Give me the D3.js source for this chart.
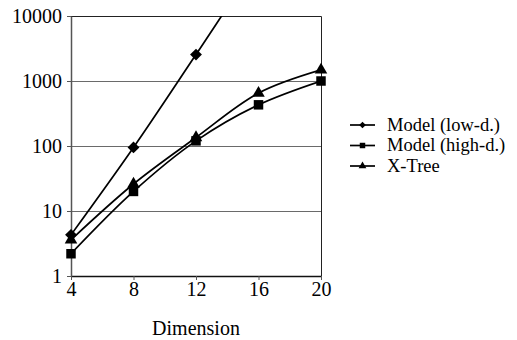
<!DOCTYPE html>
<html>
<head>
<meta charset="utf-8">
<script src="https://cdn.jsdelivr.net/npm/d3@7"></script>
<style>
  body { margin: 0; background: #fff; }
</style>
</head>
<body>
<div id="chart"></div>
<script>
// Chart values
const dims = [4, 8, 12, 16, 20];
const lowD = [4.3, 95, 2550, 70000, 1500000];
const highD = [2.2, 20, 120, 430, 1000];
const xTree = [3.6, 26, 135, 650, 1480];
const seriesNames = ['Model (low-d.)', 'Model (high-d.)', 'X-Tree'];
const yTicks = [1, 10, 100, 1000, 10000];

const FONT = 'Liberation Serif';

const width = 517, height = 340;
const margin = { top: 16, right: 196, bottom: 64, left: 71 };
const innerW = width - margin.left - margin.right;
const innerH = height - margin.top - margin.bottom;

const svg = d3.select('#chart').append('svg')
  .attr('width', width)
  .attr('height', height)
  .style('display', 'block');

const x = d3.scaleLinear().domain([4, 20]).range([0, innerW]);
const y = d3.scaleLog().domain([1, 10000]).range([innerH, 0]);

const g = svg.append('g')
  .attr('transform', 'translate(' + margin.left + ',' + margin.top + ')');

// clip for lines that run off the top
svg.append('defs').append('clipPath').attr('id', 'plot-clip')
  .append('rect').attr('x', 0).attr('y', 0).attr('width', innerW).attr('height', innerH);

// horizontal gridlines
g.selectAll('.grid')
  .data(yTicks.slice(1, -1))
  .enter()
  .append('line')
  .attr('x1', 0)
  .attr('x2', innerW)
  .attr('y1', function(d) { return Math.round(y(d)) + 0.5; })
  .attr('y2', function(d) { return Math.round(y(d)) + 0.5; })
  .attr('stroke', '#6a6a6a')
  .attr('stroke-width', 1);

// top and right border
g.append('path')
  .attr('d', 'M0,0.5H' + (innerW + 0.5) + 'V' + innerH)
  .attr('fill', 'none')
  .attr('stroke', '#222')
  .attr('stroke-width', 1);

// axes
const xAxis = g.append('g')
  .attr('transform', 'translate(0,' + innerH + ')')
  .call(d3.axisBottom(x).tickValues(dims).tickSize(4).tickSizeOuter(0).tickPadding(2));
const yAxis = g.append('g')
  .call(d3.axisLeft(y).tickValues(yTicks).tickFormat(d3.format('d')).tickSize(4).tickSizeOuter(0).tickPadding(5));

xAxis.select('.domain').attr('stroke', '#111').attr('stroke-width', 1.5);
yAxis.select('.domain').attr('stroke', '#555').attr('stroke-width', 1.5);
[xAxis, yAxis].forEach(function(ax) {
  ax.attr('font-family', FONT).attr('font-size', 20);
  ax.selectAll('.tick line').attr('stroke', '#555');
  ax.selectAll('.tick text').attr('fill', '#000');
});

// axis title
svg.append('text')
  .attr('x', margin.left + innerW / 2)
  .attr('y', 335)
  .attr('text-anchor', 'middle')
  .attr('font-family', FONT)
  .attr('font-size', 20)
  .text('Dimension');

// rotated-square diamond like the reference
const diamond = {
  draw: function(ctx, size) {
    const r = Math.sqrt(size / 2);
    ctx.moveTo(0, -r);
    ctx.lineTo(r, 0);
    ctx.lineTo(0, r);
    ctx.lineTo(-r, 0);
    ctx.closePath();
  }
};

const series = [
  { name: seriesNames[0], values: lowD, symbol: diamond, size: 70, legendSize: 22 },
  { name: seriesNames[1], values: highD, symbol: d3.symbolSquare, size: 90, legendSize: 30 },
  { name: seriesNames[2], values: xTree, symbol: d3.symbolTriangle, size: 68, legendSize: 26 }
];

const line = d3.line()
  .x(function(d) { return x(d[0]); })
  .y(function(d) { return y(d[1]); })
  .curve(d3.curveCatmullRom.alpha(0.5));

const lines = g.append('g').attr('clip-path', 'url(#plot-clip)');

series.forEach(function(s) {
  const pts = dims.map(function(d, i) { return [d, s.values[i]]; });
  lines.append('path')
    .datum(pts)
    .attr('d', line)
    .attr('fill', 'none')
    .attr('stroke', '#000')
    .attr('stroke-width', 1.7);
});

// markers (only those inside the plot)
series.forEach(function(s) {
  const pts = dims.map(function(d, i) { return [d, s.values[i]]; })
    .filter(function(p) { return p[1] <= 10000; });
  g.selectAll(null)
    .data(pts)
    .enter()
    .append('path')
    .attr('transform', function(d) { return 'translate(' + x(d[0]) + ',' + y(d[1]) + ')'; })
    .attr('d', d3.symbol().type(s.symbol).size(s.size))
    .attr('fill', '#000');
});

// legend
const legend = svg.append('g').attr('transform', 'translate(350,125)');
series.forEach(function(s, i) {
  const row = legend.append('g').attr('transform', 'translate(0,' + (i * 20.5) + ')');
  row.append('line')
    .attr('x1', 0).attr('x2', 25)
    .attr('stroke', '#000').attr('stroke-width', 1.7);
  row.append('path')
    .attr('transform', 'translate(12.5,0)')
    .attr('d', d3.symbol().type(s.symbol).size(s.legendSize))
    .attr('fill', '#000');
  row.append('text')
    .attr('x', 37)
    .attr('y', 5.5)
    .attr('font-family', FONT)
    .attr('font-size', 18.5)
    .text(s.name);
});
</script>
</body>
</html>
